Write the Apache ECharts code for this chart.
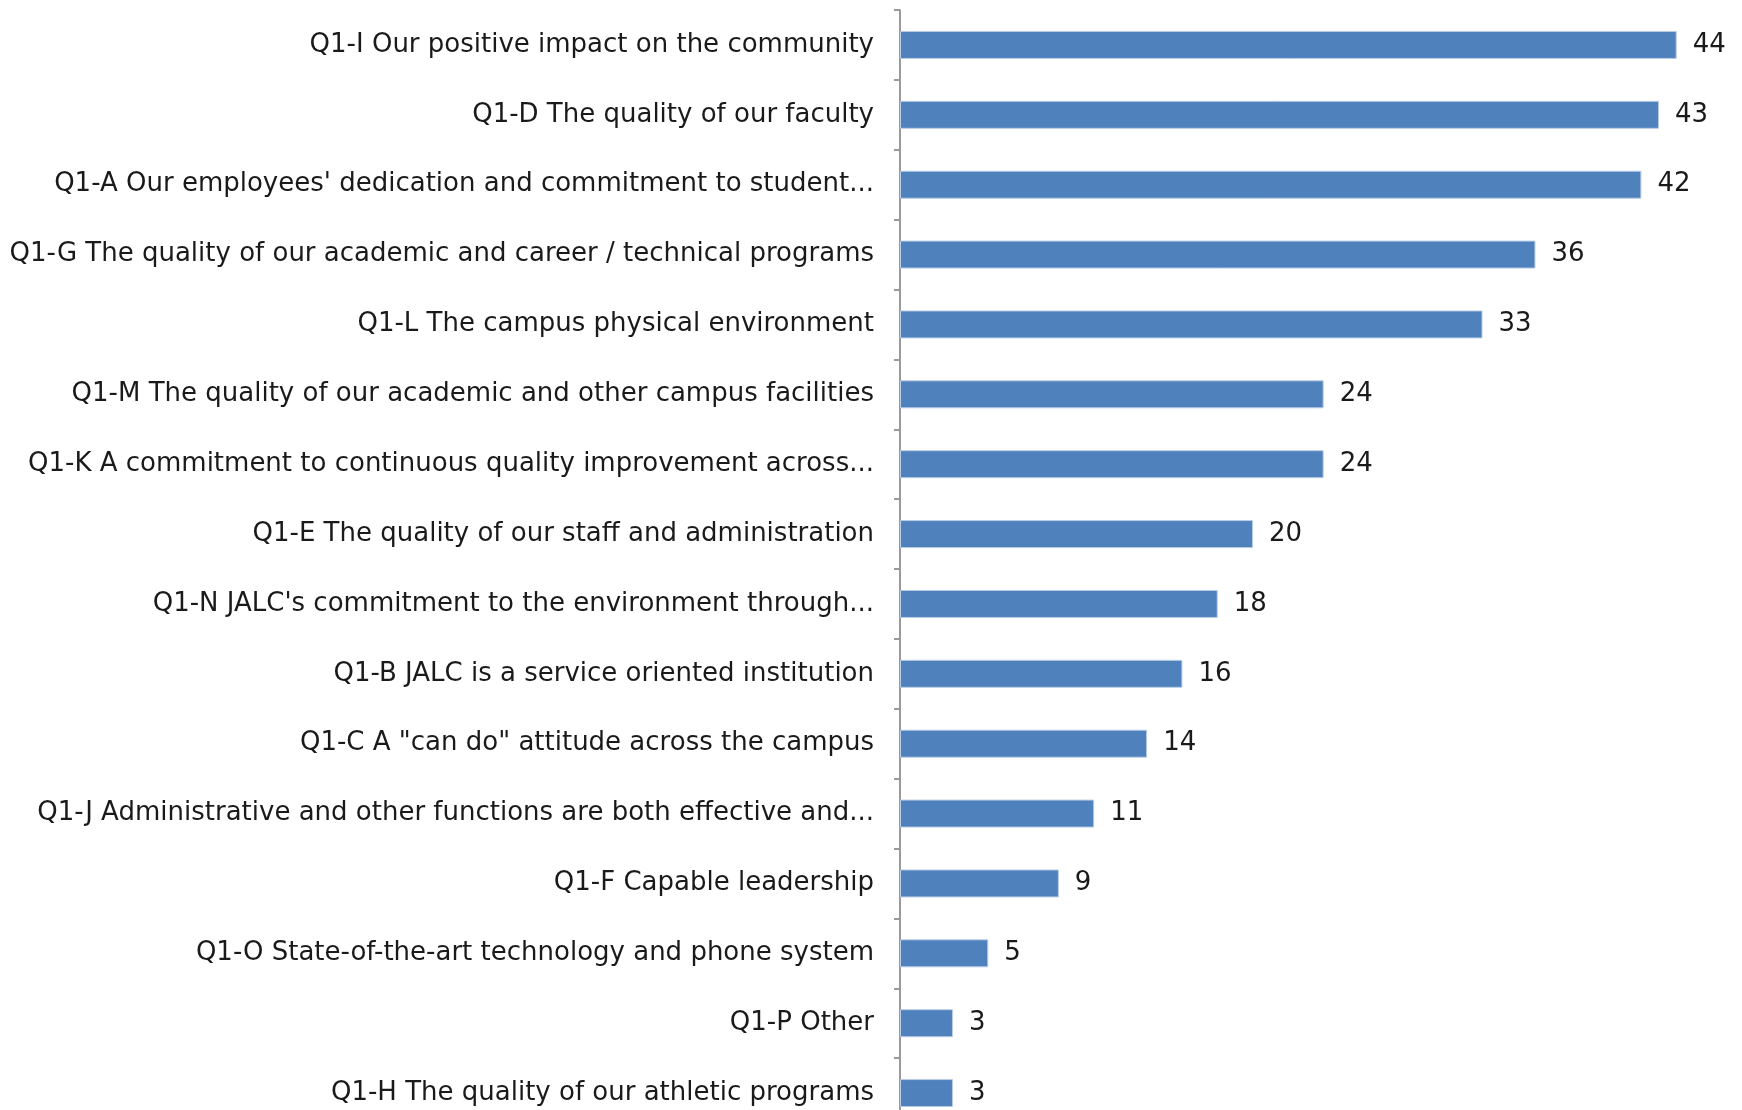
<!DOCTYPE html>
<html>
<head>
<meta charset="utf-8">
<script src="https://cdn.jsdelivr.net/npm/echarts@6/dist/echarts.min.js"></script>
<style>
  html, body { margin: 0; padding: 0; background: #fff; }
  #chart { width: 1742px; height: 1110px; }
</style>
</head>
<body>
<div id="chart"></div>
<script>
// categories, top to bottom as in the picture
const categories = [
  "Q1-I Our positive impact on the community",
  "Q1-D The quality of our faculty",
  "Q1-A Our employees' dedication and commitment to student...",
  "Q1-G The quality of our academic and career / technical programs",
  "Q1-L The campus physical environment",
  "Q1-M The quality of our academic and other campus facilities",
  "Q1-K A commitment to continuous quality improvement across...",
  "Q1-E The quality of our staff and administration",
  "Q1-N JALC's commitment to the environment through...",
  "Q1-B JALC is a service oriented institution",
  "Q1-C A \"can do\" attitude across the campus",
  "Q1-J Administrative and other functions are both effective and...",
  "Q1-F Capable leadership",
  "Q1-O State-of-the-art technology and phone system",
  "Q1-P Other",
  "Q1-H The quality of our athletic programs"
];
const counts = [44, 43, 42, 36, 33, 24, 24, 20, 18, 16, 14, 11, 9, 5, 3, 3];

const font = "'DejaVu Sans', sans-serif";

const chart = echarts.init(document.getElementById("chart"));
chart.setOption({
  animation: false,
  grid: { left: 900, top: 10, width: 842, height: 1118, outerBoundsMode: "none" },
  xAxis: {
    type: "value",
    min: 0,
    max: 47.7,
    show: false
  },
  yAxis: {
    type: "category",
    data: categories,
    inverse: true,
    axisLine: { lineStyle: { color: "#9a9a9a", width: 2 } },
    axisTick: { show: true, length: 6, lineStyle: { color: "#9a9a9a", width: 2 } },
    axisLabel: {
      margin: 26,
      fontFamily: font,
      fontSize: 26,
      color: "#1a1a1a"
    }
  },
  series: [{
    type: "bar",
    data: counts,
    barWidth: 28,
    itemStyle: { color: "#4f81bd", borderColor: "#b9cde5", borderWidth: 1 },
    label: {
      show: true,
      position: "right",
      distance: 16,
      fontFamily: font,
      fontSize: 26,
      color: "#1a1a1a"
    }
  }]
});
</script>
</body>
</html>
